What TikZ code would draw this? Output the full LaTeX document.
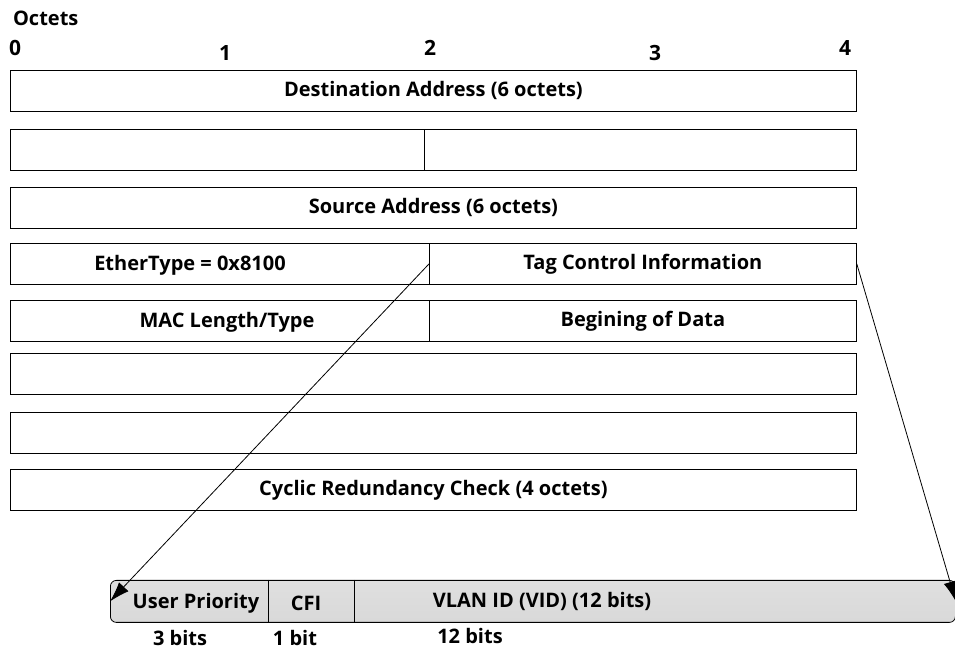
\documentclass[tikz,border=0pt]{standalone}
\usepackage{fontspec}
\setmainfont{Open Sans}
\usetikzlibrary{positioning}
\usetikzlibrary{arrows.meta}

\begin{document}
\begin{tikzpicture}[x=0.5pt, y=-0.5pt, >={Latex[length=10pt,width=6.5pt]}, thin, % pixel grid, y downward
	                    font=\fontsize{10}{12}\selectfont\bfseries,
	                    field/.style={draw, anchor=north west, inner sep=0pt, minimum height=20.5pt},
	                    num/.style={font=\fontsize{10.5}{12}\selectfont\bfseries}]
	\useasboundingbox (0,0) rectangle (955,652);
	% header
	\node[anchor=west] (oct) at (6,18) {Octets};
	\node[num] (n0) at (15,48) {0};
	\node[num] (n1) at (225,53) {1};
	\node[num] (n2) at (430,48) {2};
	\node[num] (n3) at (655,53) {3};
	\node[num] (n4) at (845,48) {4};
	% frame rows
	\node[field, minimum width=423pt] (dst) at (10,70) {Destination Address (6 octets)};
	\node[field, minimum width=207pt] (dstL) at (10,129) {};
	\node[field, minimum width=216pt] (dstR) at (424,129) {};
	\node[field, minimum width=423pt] (src) at (10,187) {Source Address (6 octets)};
	\node[field, minimum width=209.5pt] (etype) at (10,243) {};
	\node[field, minimum width=213.5pt] (tci) at (429,243) {Tag Control Information};
	\node (etypeTxt) at (190,265) {EtherType = 0x8100};
	\node[field, minimum width=209.5pt] (mac) at (10,300) {};
	\node[field, minimum width=213.5pt] (data) at (429,300) {Begining of Data};
	\node (macTxt) at (227,322) {MAC Length/Type};
	\node[field, minimum width=423pt] (rowA) at (10,353) {};
	\node[field, minimum width=423pt] (rowB) at (10,412) {};
	\node[field, minimum width=423pt] (crc) at (10,469) {Cyclic Redundancy Check (4 octets)};
	% tag control information detail
	\node[draw, anchor=north west, minimum width=422.5pt, minimum height=21pt, rounded corners=3pt,
	      top color=gray!25, middle color=gray!3, bottom color=gray!30] (vlan) at (110,580) {};
	\draw (268,580) -- (268,622);
	\draw (354,580) -- (354,622);
	\node (up) at (196,603) {User Priority};
	\node (cfi) at (306,603) {CFI};
	\node (vid) at (542,601) {VLAN ID (VID) (12 bits)};
	\node (b3) at (180,638) {3 bits};
	\node (b1) at (295,638) {1 bit};
	\node (b12) at (470,636) {12 bits};
	\draw[->] (tci.west) -- (vlan.west);
	\draw[->] (tci.east) -- (vlan.east);
\end{tikzpicture}
\end{document}
